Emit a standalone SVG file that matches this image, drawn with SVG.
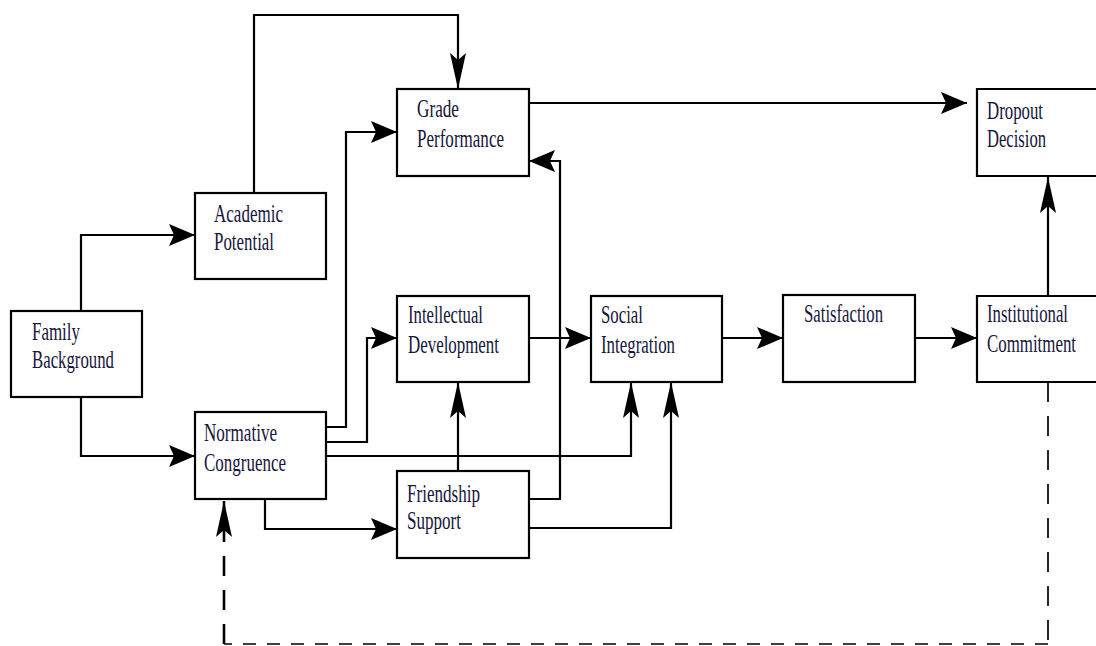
<svg xmlns="http://www.w3.org/2000/svg" width="1096" height="646" viewBox="0 0 1096 646">
<style>
.box{fill:#fff;stroke:#000;stroke-width:2.2}
.t{font-family:"Liberation Serif","Times New Roman",serif;font-size:25px;fill:#16163a}
.c{fill:none;stroke:#000;stroke-width:2.2}
.d{fill:none;stroke:#000;stroke-width:1.7}
</style>
<defs>
<marker id="ah" markerUnits="userSpaceOnUse" viewBox="0 0 26 22" refX="26" refY="11" markerWidth="26" markerHeight="22" orient="auto">
<path d="M0,0 L26,11 L0,22 L5,11 z" fill="#000"/>
</marker>
<marker id="av" markerUnits="userSpaceOnUse" viewBox="0 0 36 16" refX="36" refY="8" markerWidth="36" markerHeight="16" orient="auto">
<path d="M0,0 L36,8 L0,16 L7,8 z" fill="#000"/>
</marker>
</defs>
<rect width="1096" height="646" fill="#fff"/>
<g id="connectors">
<path class="c" d="M81,310 V235 H195" marker-end="url(#ah)"/>
<path class="c" d="M81,397 V456 H195" marker-end="url(#ah)"/>
<path class="c" d="M254,193 V15 H458 V89" marker-end="url(#av)"/>
<path class="c" d="M326,427 H346 V132 H397" marker-end="url(#ah)"/>
<path class="c" d="M326,442 H367 V338 H397" marker-end="url(#ah)"/>
<path class="c" d="M326,456 H631 V382" marker-end="url(#av)"/>
<path class="c" d="M458,471 V382" marker-end="url(#av)"/>
<path class="c" d="M529,499 H560 V161 H529" marker-end="url(#ah)"/>
<path class="c" d="M529,528 H671 V382" marker-end="url(#av)"/>
<path class="c" d="M265,499 V529 H397" marker-end="url(#ah)"/>
<path class="c" d="M529,103 H967" marker-end="url(#ah)"/>
<path class="c" d="M529,338 H591" marker-end="url(#ah)"/>
<path class="c" d="M722,338 H783" marker-end="url(#ah)"/>
<path class="c" d="M915,338 H977" marker-end="url(#ah)"/>
<path class="c" d="M1048,296 V177" marker-end="url(#av)"/>
<path class="d" d="M1048,382 V644" stroke-dasharray="20 14"/>
<path class="d" d="M1048,644 H224" stroke-dasharray="13 11"/>
<path class="c" style="stroke-width:2.6" d="M224,644 V501" stroke-dasharray="20 14" marker-end="url(#av)"/>
</g>
<g id="family-background">
<rect class="box" x="11" y="311" width="131" height="86"/>
<text class="t" x="32" y="340" textLength="48" lengthAdjust="spacingAndGlyphs">Family</text>
<text class="t" x="32" y="368" textLength="82" lengthAdjust="spacingAndGlyphs">Background</text>
</g>
<g id="academic-potential">
<rect class="box" x="195" y="193" width="131" height="86"/>
<text class="t" x="214" y="222" textLength="69" lengthAdjust="spacingAndGlyphs">Academic</text>
<text class="t" x="214" y="250" textLength="60" lengthAdjust="spacingAndGlyphs">Potential</text>
</g>
<g id="normative-congruence">
<rect class="box" x="195" y="412" width="131" height="87"/>
<text class="t" x="204" y="441" textLength="73" lengthAdjust="spacingAndGlyphs">Normative</text>
<text class="t" x="204" y="471" textLength="82" lengthAdjust="spacingAndGlyphs">Congruence</text>
</g>
<g id="grade-performance">
<rect class="box" x="397" y="89" width="132" height="87"/>
<text class="t" x="417" y="117" textLength="42" lengthAdjust="spacingAndGlyphs">Grade</text>
<text class="t" x="417" y="147" textLength="87" lengthAdjust="spacingAndGlyphs">Performance</text>
</g>
<g id="intellectual-development">
<rect class="box" x="397" y="296" width="132" height="86"/>
<text class="t" x="408" y="323" textLength="75" lengthAdjust="spacingAndGlyphs">Intellectual</text>
<text class="t" x="408" y="353" textLength="91" lengthAdjust="spacingAndGlyphs">Development</text>
</g>
<g id="social-integration">
<rect class="box" x="591" y="296" width="131" height="86"/>
<text class="t" x="601" y="323" textLength="42" lengthAdjust="spacingAndGlyphs">Social</text>
<text class="t" x="601" y="353" textLength="74" lengthAdjust="spacingAndGlyphs">Integration</text>
</g>
<g id="satisfaction">
<rect class="box" x="783" y="295" width="132" height="87"/>
<text class="t" x="804" y="322" textLength="79" lengthAdjust="spacingAndGlyphs">Satisfaction</text>
</g>
<g id="institutional-commitment">
<path class="box" d="M1097,296 H977 V382 H1097"/>
<text class="t" x="987" y="322" textLength="81" lengthAdjust="spacingAndGlyphs">Institutional</text>
<text class="t" x="987" y="352" textLength="89" lengthAdjust="spacingAndGlyphs">Commitment</text>
</g>
<g id="dropout-decision">
<path class="box" d="M1097,89 H977 V176 H1097"/>
<text class="t" x="987" y="119" textLength="56" lengthAdjust="spacingAndGlyphs">Dropout</text>
<text class="t" x="987" y="147" textLength="59" lengthAdjust="spacingAndGlyphs">Decision</text>
</g>
<g id="friendship-support">
<rect class="box" x="397" y="471" width="132" height="87"/>
<text class="t" x="407" y="502" textLength="73" lengthAdjust="spacingAndGlyphs">Friendship</text>
<text class="t" x="407" y="529" textLength="54" lengthAdjust="spacingAndGlyphs">Support</text>
</g>
</svg>
